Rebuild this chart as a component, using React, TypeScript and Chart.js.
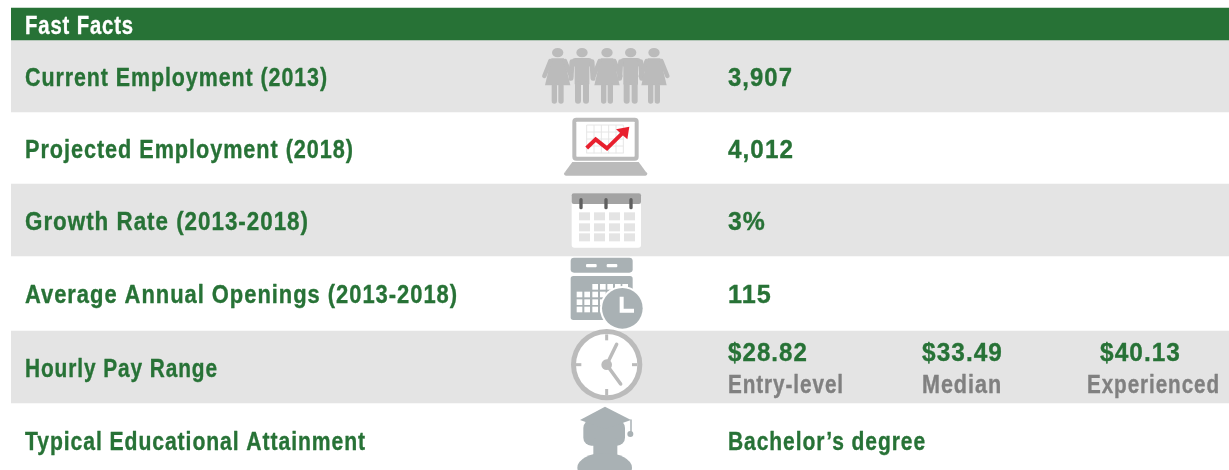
import React, { useEffect, useRef } from "react";
import { Chart, registerables } from "chart.js";

Chart.register(...registerables);

const title = "Fast Facts";
const categories = [
  "Current Employment (2013)",
  "Projected Employment (2018)",
  "Growth Rate (2013-2018)",
  "Average Annual Openings (2013-2018)",
  "Hourly Pay Range",
  "Typical Educational Attainment",
];
const values = ["3,907", "4,012", "3%", "115", "", "Bachelor\u2019s degree"];
const payValues = ["$28.82", "$33.49", "$40.13"];
const payLabels = ["Entry-level", "Median", "Experienced"];

const GREEN = "#277236";
const BAND = "#e4e4e4";
const WARM = "#bbbbbb";
const COOL = "#a9b1b4";
const FONT = 'bold 25px "Liberation Sans"';
const TRACK = "1.1px";

const bandEdges = [8, 40, 112, 184, 256, 331, 403, 470];
const bandFills = [GREEN, BAND, "rgba(0,0,0,0)", BAND, "rgba(0,0,0,0)", BAND, "rgba(0,0,0,0)"];
const baselines = [86, 158, 230, 303, 377, 450];
const categoryWidths = [303, 329, 284, 433, 193, 341];
const valueWidths = [65, 66, 38, 44, 0, 198];
const payValueWidths = [80, 81, 81];
const payLabelWidths = [116, 80, 133];

type C = CanvasRenderingContext2D;

function label(ctx: C, s: string, x: number, y: number, w: number) {
  ctx.save();
  const natural = ctx.measureText(s).width;
  ctx.translate(x, y);
  ctx.scale(w / natural, 1);
  ctx.strokeStyle = ctx.fillStyle;
  ctx.lineWidth = 0.35;
  ctx.lineJoin = "round";
  ctx.strokeText(s, 0, 0);
  ctx.fillText(s, 0, 0);
  ctx.restore();
}
function poly(ctx: C, ox: number, oy: number, pts: number[][], fill = true) {
  ctx.beginPath();
  pts.forEach(([x, y], i) => {
    const px = ox + x / 3;
    const py = oy + y / 3;
    if (i) ctx.lineTo(px, py);
    else ctx.moveTo(px, py);
  });
  if (fill) {
    ctx.closePath();
    ctx.fill();
  } else ctx.stroke();
}
function rr(ctx: C, ox: number, oy: number, x0: number, y0: number, x1: number, y1: number, r: number) {
  ctx.beginPath();
  ctx.roundRect(ox + x0 / 3, oy + y0 / 3, (x1 - x0) / 3, (y1 - y0) / 3, r / 3);
  ctx.fill();
}
function ell(ctx: C, ox: number, oy: number, x: number, y: number, rx: number, ry: number) {
  ctx.beginPath();
  ctx.ellipse(ox + x / 3, oy + y / 3, rx / 3, ry / 3, 0, 0, Math.PI * 2);
  ctx.fill();
}

function woman(ctx: C, cx: number) {
  const o = 530, t = 0;
  ell(ctx, o, t, cx, 158, 17, 14);
  poly(ctx, o, t, [[cx - 19, 175], [cx + 19, 175], [cx + 38, 256], [cx - 38, 256]]);
  ctx.lineCap = "round";
  ctx.lineJoin = "round";
  ctx.lineWidth = 4.5;
  poly(ctx, o, t, [[cx - 22, 183], [cx - 40, 228]], false);
  poly(ctx, o, t, [[cx + 22, 183], [cx + 40, 228]], false);
  rr(ctx, o, t, cx - 18, 250, cx - 2, 311, 12);
  rr(ctx, o, t, cx + 2, 250, cx + 18, 311, 12);
}
function man(ctx: C, cx: number) {
  const o = 530, t = 0;
  ell(ctx, o, t, cx, 158, 17, 14);
  rr(ctx, o, t, cx - 30, 174, cx + 30, 200, 10);
  rr(ctx, o, t, cx - 22, 180, cx + 22, 255, 4);
  ctx.lineCap = "round";
  ctx.lineWidth = 5;
  poly(ctx, o, t, [[cx - 30, 185], [cx - 33, 235]], false);
  poly(ctx, o, t, [[cx + 30, 185], [cx + 33, 235]], false);
  rr(ctx, o, t, cx - 21, 245, cx - 3, 311, 12);
  rr(ctx, o, t, cx + 3, 245, cx + 21, 311, 12);
}

function drawPeople(ctx: C) {
  ctx.fillStyle = WARM;
  ctx.strokeStyle = WARM;
  man(ctx, 156);
  man(ctx, 302);
  woman(ctx, 83);
  woman(ctx, 231);
  woman(ctx, 372);
}
function drawLaptop(ctx: C) {
  const o = 530, t = 0;
  ctx.fillStyle = WARM;
  rr(ctx, o, t, 127, 353, 326, 482, 12);
  ctx.fillStyle = "#fff";
  rr(ctx, o, t, 139, 365, 314, 470, 2);
  ctx.strokeStyle = "#e6e6e6";
  ctx.lineWidth = 1;
  ctx.lineCap = "butt";
  for (let x = 170; x <= 280; x += 22) poly(ctx, o, t, [[x, 375], [x, 460]], false);
  for (let y = 375; y <= 460; y += 21) poly(ctx, o, t, [[170, y], [280, y]], false);
  ctx.strokeStyle = "#e8202e";
  ctx.lineWidth = 4;
  ctx.lineJoin = "miter";
  poly(ctx, o, t, [[170, 444], [197, 418], [231, 445], [285, 392]], false);
  ctx.fillStyle = "#e8202e";
  poly(ctx, o, t, [[258, 388], [298, 380], [292, 418]]);
  ctx.fillStyle = WARM;
  poly(ctx, o, t, [[127, 486], [326, 486], [348, 516], [105, 516]]);
  rr(ctx, o, t, 102, 516, 352, 527, 8);
}
function drawCalendar(ctx: C) {
  const o = 530, t = 180;
  ctx.fillStyle = "#fff";
  rr(ctx, o, t, 125, 40, 333, 203, 8);
  ctx.fillStyle = "#a3a3a3";
  rr(ctx, o, t, 125, 40, 333, 72, 6);
  ctx.fillStyle = "#5f5f5f";
  for (const x of [153, 228, 303]) rr(ctx, o, t, x - 5, 54, x + 5, 88, 5);
  ctx.fillStyle = BAND;
  for (const x of [147, 192, 237, 282])
    for (const y of [97, 130, 160]) rr(ctx, o, t, x, y, x + 33, y + 24, 0);
}
function drawCalClock(ctx: C) {
  const o = 530, t = 180;
  ctx.fillStyle = COOL;
  rr(ctx, o, t, 122, 233, 308, 278, 10);
  rr(ctx, o, t, 122, 288, 308, 420, 8);
  ctx.fillStyle = "#fff";
  rr(ctx, o, t, 168, 252, 200, 262, 3);
  rr(ctx, o, t, 230, 252, 262, 262, 3);
  for (const y of [312, 335, 358, 380])
    for (const x of [140, 163, 187, 210, 232, 255, 277]) {
      if (y === 312 && x < 187) continue;
      rr(ctx, o, t, x, y, x + 17, y + 17, 0);
    }
  ell(ctx, o, t, 277, 385, 67, 67);
  ctx.fillStyle = COOL;
  ell(ctx, o, t, 277, 385, 61, 61);
  ctx.strokeStyle = "#fff";
  ctx.lineWidth = 4;
  ctx.lineCap = "butt";
  ctx.lineJoin = "miter";
  poly(ctx, o, t, [[275, 350], [275, 392], [312, 392]], false);
}
function drawClock(ctx: C) {
  const o = 530, t = 325;
  ctx.fillStyle = WARM;
  ell(ctx, o, t, 230, 119, 107, 107);
  ctx.fillStyle = "#fff";
  ell(ctx, o, t, 230, 119, 92, 92);
  ctx.strokeStyle = WARM;
  ctx.lineWidth = 3;
  ctx.lineCap = "butt";
  poly(ctx, o, t, [[230, 28], [230, 46]], false);
  poly(ctx, o, t, [[230, 192], [230, 212]], false);
  poly(ctx, o, t, [[138, 119], [154, 119]], false);
  poly(ctx, o, t, [[306, 119], [322, 119]], false);
  ctx.lineCap = "round";
  ctx.lineWidth = 3.5;
  poly(ctx, o, t, [[230, 119], [260, 58]], false);
  poly(ctx, o, t, [[230, 119], [272, 177]], false);
  ctx.fillStyle = WARM;
  ell(ctx, o, t, 230, 119, 16, 16);
}
function drawGrad(ctx: C) {
  const o = 530, t = 325;
  ctx.save();
  ctx.beginPath();
  ctx.rect(560, 403, 90, 67);
  ctx.clip();
  ctx.fillStyle = COOL;
  rr(ctx, o, t, 160, 285, 285, 362, 24);
  rr(ctx, o, t, 190, 340, 262, 400, 6);
  ell(ctx, o, t, 224, 428, 82, 44);
  poly(ctx, o, t, [[225, 245], [303, 285], [225, 312], [150, 285]]);
  ctx.strokeStyle = COOL;
  ctx.lineWidth = 1.5;
  poly(ctx, o, t, [[303, 285], [303, 322]], false);
  ell(ctx, o, t, 301, 327, 9, 9);
  ctx.restore();
}

const tablePlugin = {
  id: "fastFacts",
  afterDatasetsDraw(chart: Chart) {
    const ctx = chart.ctx as C;
    const y = chart.scales.y;
    const px = (v: number) => y.getPixelForValue(v);
    ctx.save();
    ctx.textBaseline = "alphabetic";
    ctx.textAlign = "left";
    ctx.font = FONT;
    (ctx as any).letterSpacing = TRACK;
    ctx.fillStyle = "#fff";
    label(ctx, title, 25, px(34), 109);
    ctx.fillStyle = GREEN;
    categories.forEach((c, i) => {
      label(ctx, c, 25, px(baselines[i]), categoryWidths[i]);
      if (values[i]) label(ctx, values[i], 728, px(baselines[i]), valueWidths[i]);
    });
    const valueX = [728, 922, 1100];
    const labelX = [728, 922, 1087];
    payValues.forEach((v, i) => {
      ctx.fillStyle = GREEN;
      label(ctx, v, valueX[i], px(361), payValueWidths[i]);
      ctx.fillStyle = "#808080";
      label(ctx, payLabels[i], labelX[i], px(393), payLabelWidths[i]);
    });
    (ctx as any).letterSpacing = "0px";
    drawPeople(ctx);
    drawLaptop(ctx);
    drawCalendar(ctx);
    drawCalClock(ctx);
    drawClock(ctx);
    drawGrad(ctx);
    ctx.restore();
  },
};

export default function App() {
  const ref = useRef<HTMLCanvasElement>(null);
  useEffect(() => {
    const chart = new Chart(ref.current!, {
      type: "bar",
      data: {
        labels: [title],
        datasets: bandFills.map((fill, i) => ({
          label: i === 0 ? title : categories[i - 1],
          data: [[bandEdges[i], bandEdges[i + 1]]] as any,
          backgroundColor: fill,
          borderWidth: 0,
          barPercentage: 1,
          categoryPercentage: 1,
          grouped: false,
        })),
      },
      options: {
        responsive: false,
        animation: false,
        layout: { padding: { left: 11, right: 0, top: 0, bottom: 0 } },
        plugins: { legend: { display: false }, title: { display: false }, tooltip: { enabled: false } },
        scales: {
          x: { display: false },
          y: { display: false, reverse: true, min: 0, max: 470 },
        },
      },
      plugins: [tablePlugin],
    });
    return () => chart.destroy();
  }, []);
  return (
    <div style={{ position: "absolute", left: 0, top: 0, width: 1229, height: 470, background: "#fff", overflow: "hidden" }}>
      <canvas ref={ref} width={1229} height={470} style={{ display: "block" }} />
    </div>
  );
}
